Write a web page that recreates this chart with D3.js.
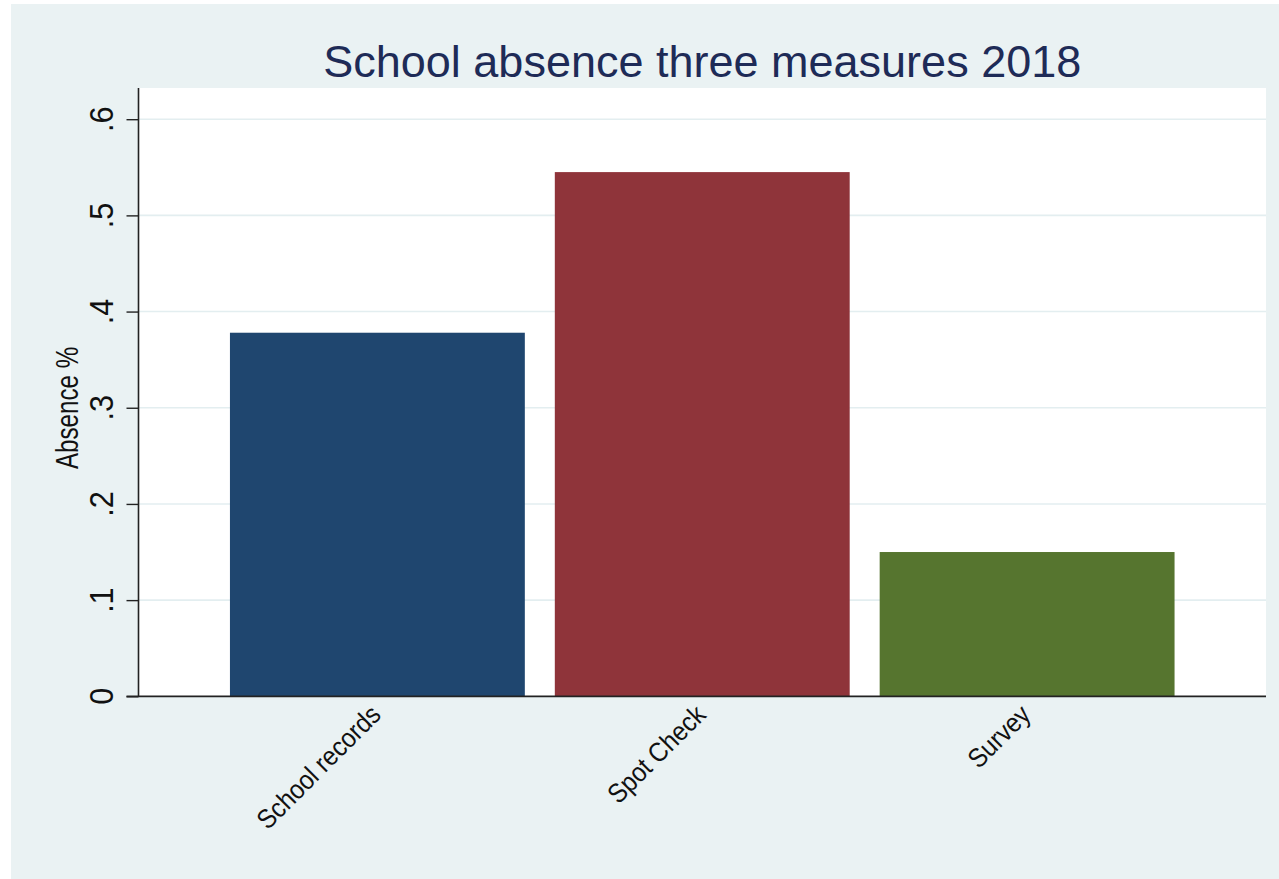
<!DOCTYPE html>
<html><head><meta charset="utf-8">
<script src="https://cdn.jsdelivr.net/npm/d3@7"></script>
<style>html,body{margin:0;padding:0;background:#fff;}svg{display:block;}</style>
</head><body>
<script>
const categories = ["School records", "Spot Check", "Survey"];
const values = [0.378, 0.545, 0.150];
const barColors = ["#1f466f", "#8f343a", "#56752f"];
const yTicks = [0, 0.1, 0.2, 0.3, 0.4, 0.5, 0.6];
const yTickLabels = ["0", ".1", ".2", ".3", ".4", ".5", ".6"];
const titleText = "School absence three measures 2018";
const yTitle = "Absence %";

const W = 1279, H = 879;
const plot = {left: 138.5, right: 1266, top: 88, bottom: 696.3};
const FONT = "'Liberation Sans', Arial, Helvetica, sans-serif";

const svg = d3.select("body").append("svg").attr("width", W).attr("height", H);
svg.append("rect").attr("x", 11).attr("y", 4).attr("width", W - 11).attr("height", H - 4).attr("fill", "#eaf2f3");
svg.append("rect").attr("x", plot.left).attr("y", plot.top).attr("width", plot.right - plot.left).attr("height", plot.bottom - plot.top).attr("fill", "#ffffff");

const y = d3.scaleLinear().domain([0, 0.6]).range([plot.bottom, 119.2]);
const x = d3.scaleBand().domain(categories).range([plot.left, plot.right]).paddingInner(0.0923).paddingOuter(0.2815);

// gridlines
svg.append("g").selectAll("line").data(yTicks.filter(d => d > 0)).join("line")
  .attr("x1", plot.left).attr("x2", plot.right)
  .attr("y1", d => y(d)).attr("y2", d => y(d))
  .attr("stroke", "#e3eef0").attr("stroke-width", 1.6);

// bars
svg.append("g").selectAll("rect").data(values).join("rect")
  .attr("x", (d, i) => x(categories[i]))
  .attr("width", x.bandwidth())
  .attr("y", d => y(d))
  .attr("height", d => y(0) - y(d))
  .attr("fill", (d, i) => barColors[i]);

// y axis
const yAxis = d3.axisLeft(y).tickValues(yTicks).tickSize(12).tickFormat("");
const gy = svg.append("g").attr("transform", `translate(${plot.left},0)`).call(yAxis);
gy.select(".domain").attr("d", `M-0,${plot.top}V${plot.bottom}`).attr("stroke", "#222").attr("stroke-width", 1.6);
gy.selectAll(".tick line").attr("stroke", "#222").attr("stroke-width", 1.4);

// y tick labels
svg.append("g").selectAll("text").data(yTicks).join("text")
  .attr("transform", d => `translate(113,${y(d)}) rotate(-90) scale(0.9,1)`)
  .attr("text-anchor", "middle")
  .attr("font-family", FONT).attr("font-size", 34).attr("fill", "#111")
  .text((d, i) => yTickLabels[i]);

// x baseline
svg.append("line").attr("x1", plot.left - 12).attr("x2", plot.right)
  .attr("y1", plot.bottom).attr("y2", plot.bottom)
  .attr("stroke", "#222").attr("stroke-width", 1.8);

// x labels
svg.append("g").selectAll("text").data(categories).join("text")
  .attr("transform", d => `translate(${x(d) + x.bandwidth() / 2 + 5},${plot.bottom + 20}) rotate(-45) scale(0.9,1)`)
  .attr("text-anchor", "end")
  .attr("font-family", FONT).attr("font-size", 27).attr("fill", "#111")
  .text(d => d);

// y title
svg.append("text")
  .attr("transform", `translate(77.5,${408}) rotate(-90) scale(0.78,1)`)
  .attr("text-anchor", "middle")
  .attr("font-family", FONT).attr("font-size", 31).attr("fill", "#111")
  .text(yTitle);

// title
svg.append("text")
  .attr("transform", `translate(${(plot.left + plot.right) / 2},77)`)
  .attr("text-anchor", "middle")
  .attr("font-family", FONT).attr("font-size", 45).attr("fill", "#1e2b57")
  .text(titleText);
</script>
</body></html>
